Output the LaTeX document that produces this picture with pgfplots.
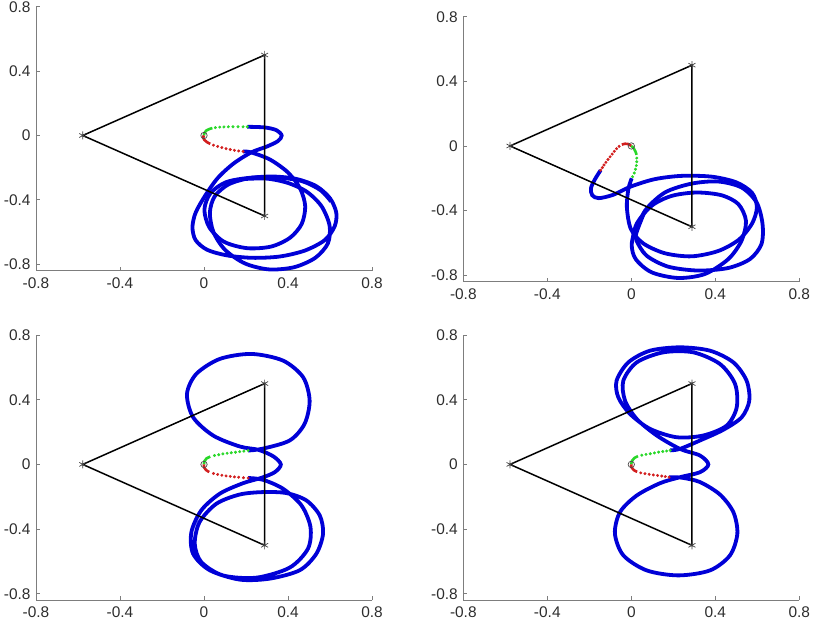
\documentclass[border=0pt]{standalone}
\usepackage{fontspec}
\setmainfont{Liberation Sans}
\usepackage{pgfplots}
\pgfplotsset{compat=1.18}

\definecolor{trajblue}{RGB}{0,0,215}
\definecolor{trajgreen}{RGB}{40,215,40}
\definecolor{trajred}{RGB}{210,30,30}
\definecolor{axgray}{RGB}{125,125,125}
\definecolor{labgray}{RGB}{45,45,45}

\pgfplotsset{
  panel/.style={
    scale only axis, width=336bp,
    anchor=south west,
    xmin=-0.8, xmax=0.8, ymin=-0.84, ymax=0.8,
    axis x line*=bottom, axis y line*=left,
    xtick={-0.8,-0.4,0,0.4,0.8}, ytick={-0.8,-0.4,0,0.4,0.8},
    xticklabels={-0.8,-0.4,0,0.4,0.8}, yticklabels={-0.8,-0.4,0,0.4,0.8},
    tick align=inside, major tick length=4bp,
    axis line style={draw=axgray, line width=0.8bp},
    tick style={draw=axgray, line width=0.8bp},
    ticklabel style={font=\fontsize{15.5}{17}\selectfont, text=labgray},
    xticklabel style={yshift=-3bp},
    yticklabel style={xshift=-2bp},
    clip=false,
  },
  traj/.style={trajblue, line width=3.8bp, smooth, no marks},
  tri/.style={black, line width=1.5bp, no marks},
  vert/.style={only marks, mark=asterisk, mark size=4bp, black!75, mark options={line width=0.7bp}},
  orig/.style={only marks, mark=o, mark size=3.2bp, black!70, mark options={line width=0.7bp}},
  gsolid/.style={trajgreen, line width=2.6bp, smooth, no marks},
  rsolid/.style={trajred, line width=2.6bp, smooth, no marks},
  gdots/.style={only marks, mark=*, mark size=1.3bp, trajgreen},
  rdots/.style={only marks, mark=*, mark size=1.3bp, trajred},
}

\begin{document}
\begin{tikzpicture}
\useasboundingbox (0,0) rectangle (830bp,-623bp);

% ---------- top left ----------
\begin{axis}[panel, at={(36bp,-270.7bp)}, height=264bp]
\addplot[traj] coordinates {
  (0.206,0.054) (0.289,0.050) (0.345,0.033) (0.370,0.0) (0.352,-0.035)
  (0.297,-0.070) (0.225,-0.105) (0.140,-0.175) (0.065,-0.265) (0.005,-0.375)
  (-0.040,-0.480) (-0.055,-0.570) (-0.040,-0.650) (0.015,-0.710) (0.110,-0.745)
  (0.230,-0.760) (0.360,-0.752) (0.480,-0.715) (0.575,-0.650) (0.622,-0.565)
  (0.630,-0.480) (0.600,-0.390) (0.535,-0.315) (0.440,-0.270) (0.330,-0.255)
  (0.215,-0.265) (0.115,-0.305) (0.050,-0.380) (0.028,-0.480) (0.045,-0.600)
  (0.100,-0.710) (0.195,-0.795) (0.310,-0.832) (0.430,-0.818) (0.530,-0.760)
  (0.590,-0.670) (0.598,-0.560) (0.560,-0.440) (0.490,-0.350) (0.400,-0.295)
  (0.300,-0.268) (0.200,-0.270)
};
\addplot[traj] coordinates {
  (0.186,-0.099) (0.225,-0.105) (0.315,-0.150) (0.400,-0.230) (0.458,-0.330)
  (0.482,-0.440) (0.465,-0.550) (0.410,-0.635) (0.320,-0.690) (0.205,-0.700)
  (0.095,-0.660) (0.025,-0.570) (0.002,-0.460) (0.030,-0.360) (0.105,-0.290)
  (0.225,-0.262) (0.360,-0.262) (0.470,-0.285) (0.555,-0.340) (0.605,-0.410)
};
\addplot[tri] coordinates {(-0.5774,0) (0.2887,0.5) (0.2887,-0.5) (-0.5774,0)};
\addplot[vert] coordinates {(-0.5774,0) (0.2887,0.5) (0.2887,-0.5)};
\addplot[gsolid] coordinates {(0,0) (0.002,0.015) (0.010,0.030) (0.025,0.040) (0.040,0.046)};
\addplot[gdots] coordinates {(0.054,0.049) (0.075,0.052) (0.095,0.053) (0.116,0.054)
  (0.138,0.054) (0.162,0.054) (0.186,0.054) (0.206,0.054)};
\addplot[rsolid] coordinates {(0,0) (-0.004,-0.012) (0.002,-0.028) (0.015,-0.042) (0.030,-0.052)};
\addplot[rdots] coordinates {(0.045,-0.060) (0.065,-0.068) (0.085,-0.075) (0.105,-0.082)
  (0.125,-0.087) (0.145,-0.092) (0.165,-0.096) (0.186,-0.099)};
\addplot[orig] coordinates {(0,0)};
\end{axis}

% ---------- top right ----------
\begin{axis}[panel, at={(463.3bp,-281.7bp)}, height=265bp]
\addplot[traj] coordinates {
  (-0.146,-0.150) (-0.173,-0.206) (-0.192,-0.261) (-0.186,-0.305) (-0.155,-0.323)
  (-0.086,-0.302) (0.0,-0.250) (0.113,-0.205) (0.240,-0.185) (0.383,-0.190)
  (0.500,-0.225) (0.575,-0.290) (0.598,-0.380) (0.575,-0.480) (0.512,-0.580)
  (0.414,-0.650) (0.287,-0.683) (0.160,-0.664) (0.057,-0.603) (-0.002,-0.514)
  (-0.021,-0.381) (-0.014,-0.267) (0.002,-0.200)
};
\addplot[traj] coordinates {
  (0.002,-0.607) (0.025,-0.483) (0.097,-0.370) (0.192,-0.309) (0.311,-0.288)
  (0.430,-0.305) (0.510,-0.360) (0.546,-0.463) (0.525,-0.586) (0.462,-0.700)
  (0.351,-0.792) (0.224,-0.817) (0.097,-0.782) (0.021,-0.700) (0.002,-0.607)
  (0.025,-0.483)
};
\addplot[traj] coordinates {
  (0.025,-0.535) (0.065,-0.401) (0.160,-0.288) (0.287,-0.233) (0.414,-0.220)
  (0.525,-0.257) (0.597,-0.350) (0.625,-0.483) (0.620,-0.607) (0.565,-0.700)
  (0.462,-0.755) (0.319,-0.771) (0.176,-0.747) (0.073,-0.679) (0.025,-0.586)
  (0.025,-0.535) (0.065,-0.401)
};
\addplot[tri] coordinates {(-0.5774,0) (0.2887,0.5) (0.2887,-0.5) (-0.5774,0)};
\addplot[vert] coordinates {(-0.5774,0) (0.2887,0.5) (0.2887,-0.5)};
\addplot[rsolid] coordinates {(0,0) (-0.015,0.012) (-0.030,0.014) (-0.045,0.008)};
\addplot[rdots] coordinates {(-0.058,-0.002) (-0.070,-0.017) (-0.081,-0.033) (-0.091,-0.050)
  (-0.101,-0.067) (-0.111,-0.084) (-0.121,-0.101) (-0.130,-0.118) (-0.138,-0.134) (-0.146,-0.150)};
\addplot[gsolid] coordinates {(0,0) (0.012,-0.015) (0.020,-0.035) (0.025,-0.055)};
\addplot[gdots] coordinates {(0.026,-0.075) (0.026,-0.098) (0.024,-0.121) (0.020,-0.144)
  (0.014,-0.167) (0.006,-0.190)};
\addplot[orig] coordinates {(0,0)};
\end{axis}

% ---------- bottom left ----------
\begin{axis}[panel, at={(36bp,-600.3bp)}, height=265.3bp]
\addplot[traj] coordinates {
  (0.210,0.086) (0.278,0.097) (0.408,0.148) (0.479,0.251) (0.503,0.395)
  (0.472,0.539) (0.376,0.642) (0.226,0.683) (0.075,0.652) (-0.037,0.559)
  (-0.081,0.436) (-0.052,0.292) (0.043,0.179) (0.170,0.111) (0.260,0.090)
  (0.330,0.050) (0.366,0.0) (0.337,-0.048) (0.273,-0.083) (0.186,-0.116)
  (0.075,-0.181) (-0.013,-0.284) (-0.060,-0.418) (-0.052,-0.552) (0.027,-0.654)
  (0.170,-0.712) (0.313,-0.706) (0.456,-0.654) (0.535,-0.552) (0.567,-0.428)
  (0.551,-0.315) (0.487,-0.222) (0.392,-0.177) (0.281,-0.171) (0.170,-0.186)
  (0.059,-0.243) (-0.021,-0.356) (-0.044,-0.490) (-0.013,-0.603) (0.090,-0.686)
  (0.249,-0.700) (0.408,-0.638) (0.495,-0.521) (0.507,-0.387) (0.464,-0.253)
  (0.376,-0.150) (0.281,-0.095) (0.210,-0.084)
};
\addplot[tri] coordinates {(-0.5774,0) (0.2887,0.5) (0.2887,-0.5) (-0.5774,0)};
\addplot[vert] coordinates {(-0.5774,0) (0.2887,0.5) (0.2887,-0.5)};
\addplot[gsolid] coordinates {(0,0) (0.002,0.020) (0.012,0.037) (0.030,0.048)};
\addplot[gdots] coordinates {(0.050,0.055) (0.070,0.060) (0.090,0.065) (0.110,0.069)
  (0.130,0.072) (0.150,0.075) (0.170,0.079) (0.190,0.082) (0.210,0.086)};
\addplot[rsolid] coordinates {(0,0) (0.0,-0.018) (0.010,-0.035) (0.025,-0.047)};
\addplot[rdots] coordinates {(0.045,-0.056) (0.065,-0.062) (0.085,-0.067) (0.105,-0.071)
  (0.125,-0.074) (0.145,-0.077) (0.165,-0.079) (0.188,-0.082) (0.210,-0.084)};
\addplot[orig] coordinates {(0,0)};
\end{axis}

% ---------- bottom right ----------
\begin{axis}[panel, at={(463.3bp,-600.3bp)}, height=265.3bp]
\addplot[traj] coordinates {
  (0.185,0.087) (0.232,0.096) (0.327,0.148) (0.438,0.214) (0.526,0.292)
  (0.562,0.395) (0.549,0.518) (0.486,0.631) (0.375,0.703) (0.232,0.724)
  (0.089,0.703) (-0.014,0.631) (-0.070,0.518) (-0.062,0.415) (-0.006,0.312)
  (0.089,0.220) (0.216,0.168) (0.343,0.179) (0.454,0.240) (0.502,0.353)
  (0.494,0.498) (0.422,0.621) (0.295,0.693) (0.153,0.693) (0.026,0.631)
  (-0.038,0.518) (-0.030,0.395) (0.026,0.281) (0.121,0.179) (0.232,0.096)
  (0.327,0.055) (0.367,0.0) (0.327,-0.048) (0.232,-0.079) (0.137,-0.116)
  (0.026,-0.192) (-0.054,-0.295) (-0.078,-0.428) (-0.038,-0.562) (0.073,-0.655)
  (0.224,-0.686) (0.375,-0.655) (0.470,-0.562) (0.505,-0.428) (0.486,-0.295)
  (0.422,-0.186) (0.327,-0.109) (0.240,-0.082) (0.180,-0.079)
};
\addplot[tri] coordinates {(-0.5774,0) (0.2887,0.5) (0.2887,-0.5) (-0.5774,0)};
\addplot[vert] coordinates {(-0.5774,0) (0.2887,0.5) (0.2887,-0.5)};
\addplot[gsolid] coordinates {(0,0) (0.003,0.022) (0.015,0.040) (0.032,0.051)};
\addplot[gdots] coordinates {(0.050,0.057) (0.070,0.062) (0.090,0.066) (0.110,0.071)
  (0.130,0.076) (0.150,0.080) (0.168,0.083) (0.185,0.087)};
\addplot[rsolid] coordinates {(0,0) (0.001,-0.018) (0.012,-0.035) (0.028,-0.046)};
\addplot[rdots] coordinates {(0.045,-0.052) (0.065,-0.057) (0.085,-0.061) (0.105,-0.065)
  (0.125,-0.068) (0.145,-0.072) (0.162,-0.075) (0.180,-0.079)};
\addplot[orig] coordinates {(0,0)};
\end{axis}
\end{tikzpicture}
\end{document}
